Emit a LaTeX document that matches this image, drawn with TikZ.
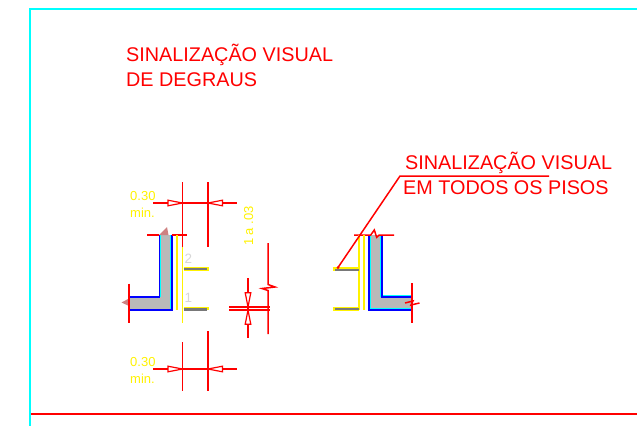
\documentclass[tikz,border=0pt]{standalone}
\usepackage{fontspec}
\setmainfont{Liberation Sans}
\definecolor{dimred}{RGB}{255,0,0}
\definecolor{framecyan}{RGB}{0,255,255}
\definecolor{stepgray}{RGB}{120,120,120}
\definecolor{fillgray}{RGB}{185,185,185}
\definecolor{numgray}{RGB}{215,215,215}
\definecolor{pure}{RGB}{0,0,255}
\tikzset{
  redline/.style={draw=dimred,line width=1.5pt},
  arrowtri/.style={draw=dimred,fill=white,line width=1.2pt,line join=miter},
  blueline/.style={draw=pure,line width=1.6pt,line join=miter},
  cyanline/.style={draw=framecyan,line width=1.1pt},
  yellowline/.style={draw=yellow,line width=1.6pt},
  treadg/.style={draw=stepgray,line width=2.4pt},
  tready/.style={draw=yellow,line width=3.6pt},
  bigtext/.style={text=dimred,font=\fontsize{19.8}{24}\selectfont,anchor=base west,inner sep=0pt},
  dimtext/.style={text=yellow,font=\fontsize{13}{15}\selectfont,anchor=base west,inner sep=0pt},
  numtext/.style={text=numgray,font=\fontsize{13.5}{15}\selectfont,anchor=base west,inner sep=0pt},
  breakfill/.style={fill=fillgray!70!dimred,draw=none}
}
\begin{document}
\begin{tikzpicture}[x=1pt,y=-1pt]
\useasboundingbox (0,0) rectangle (637,426);
% frame
\draw[draw=framecyan,line width=2.2pt] (637,9) -- (30,9) -- (30,426);
\fill[dimred] (31,412.8) rectangle (637,414.7);
% titles
\node[bigtext] (title1) at (126,61) {SINALIZAÇÃO VISUAL};
\node[bigtext] (title2) at (126,86) {DE DEGRAUS};
\node[bigtext] (note1) at (405,169) {SINALIZAÇÃO VISUAL};
\node[bigtext] (note2) at (403,194) {EM TODOS OS PISOS};
% leader
\coordinate (leadA) at (338,267.5);
\coordinate (leadB) at (400,176);
\coordinate (leadC) at (549,176);
% left section
\fill[fillgray] (159.5,235) -- (171.5,235) -- (171.5,310) -- (129,310) -- (129,297) -- (159.5,297) -- cycle;
\draw[cyanline,line width=.7pt] (170.5,235) -- (170.5,309) -- (129,309);
\draw[cyanline,line width=.5pt] (160.6,235) -- (160.6,296) -- (129,296);
\draw[blueline] (159.5,235) -- (159.5,297) -- (129,297);
\draw[blueline] (171.8,235) -- (171.8,310) -- (129,310);
\fill[breakfill] (159,235) -- (167,227) -- (168.5,235) -- cycle;
\fill[breakfill] (129,298.5) -- (121.5,302.5) -- (129,306) -- cycle;
\draw[redline] (129,283.5) -- (129,323);
\draw[redline] (147,235) -- (159,235);
\draw[redline] (172,235) -- (187,235);
% left yellow
\draw[yellowline] (176.8,235) -- (176.8,310);
\draw[yellowline] (182.5,247) -- (182.5,323);
% left treads
\draw[tready] (183.5,269) -- (208.5,269);
\draw[treadg] (183.5,269) -- (207,269);
\draw[tready] (183.5,308.6) -- (208.5,308.6);
\draw[treadg] (183.5,309.4) -- (207,309.4);
\node[numtext] (num2) at (184.5,263) {2};
\node[numtext] (num1) at (184.5,302) {1};
% top dim
\draw[redline] (182.5,182) -- (182.5,247);
\draw[redline] (208,182) -- (208,247);
\draw[redline] (153,203) -- (237,203);
\draw[arrowtri] (182.5,203) -- (168,200.2) -- (168,205.8) -- cycle;
\draw[arrowtri] (208,203) -- (222.5,200.2) -- (222.5,205.8) -- cycle;
\node[dimtext] (t30a) at (130,200.5) {0.30};
\node[dimtext] (tmina) at (130,217.5) {min.};
% bottom dim
\draw[redline] (182.5,342) -- (182.5,391);
\draw[redline] (208,331) -- (208,391);
\draw[redline] (153,369) -- (237,369);
\draw[arrowtri] (182.5,369) -- (168,366.2) -- (168,371.8) -- cycle;
\draw[arrowtri] (208,369) -- (222.5,366.2) -- (222.5,371.8) -- cycle;
\node[dimtext] (t30b) at (130,366) {0.30};
\node[dimtext] (tminb) at (130,383) {min.};
% centre dim
\node[dimtext,rotate=90,anchor=base] (tstep) at (253,226) {1 a .03};
\draw[redline] (248,278) -- (248,338);
\draw[redline,line width=1.2pt] (229,307) -- (270,307);
\draw[redline,line width=1.2pt] (229,310) -- (270,310);
\draw[arrowtri] (248,307) -- (245.2,292.7) -- (250.8,292.7) -- cycle;
\draw[arrowtri] (248,310) -- (245.2,324.3) -- (250.8,324.3) -- cycle;
\draw[redline] (268,243) -- (268,284.5) -- (275,287) -- (262,288.5) -- (268,290.5) -- (268,334);
% right section
\fill[fillgray] (369,235) -- (381.5,235) -- (381.5,296.5) -- (412,296.5) -- (412,310) -- (369,310) -- cycle;
\draw[cyanline,line width=1.4pt] (381,235) -- (381,296) -- (412,296);
\draw[cyanline] (370.3,235) -- (370.3,308.8) -- (412,308.8);
\draw[blueline] (369,235) -- (369,310) -- (412,310);
\draw[blueline] (382,235) -- (382,296.7) -- (412,296.7);
\draw[redline] (354,235) -- (370.7,235) -- (374.3,230) -- (376.7,237.3) -- (379.3,235) -- (394,235);
\draw[yellowline] (358.7,235) -- (358.7,310);
\draw[yellowline] (364,235) -- (364,310);
\draw[tready] (332.7,268.7) -- (359,268.7);
\draw[treadg] (335,270) -- (359,270);
\draw[tready] (332.7,308.7) -- (359,308.7);
\draw[treadg] (334.5,308.7) -- (359,308.7);
\draw[redline] (412,283) -- (412,323);
\draw[redline] (405,303) -- (413,301) -- (411,305) -- (419.5,303);
% leader on top
\draw[redline] (leadA) -- (leadB) -- (leadC);
\fill[dimred] (leadA) circle (1.5pt);
\end{tikzpicture}
\end{document}
